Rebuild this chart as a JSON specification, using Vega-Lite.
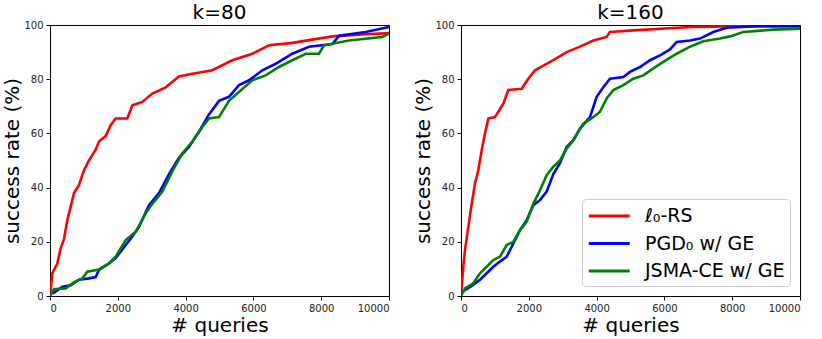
{
  "$schema": "https://vega.github.io/schema/vega-lite/v6.json",
  "background": "white",
  "padding": {"left": 2, "top": 2, "right": 0, "bottom": 0},
  "bounds": "flush",
  "spacing": 72,
  "config": {
    "font": "DejaVu Sans",
    "view": {"stroke": "#000000", "strokeWidth": 1},
    "axis": {"domain": false, "grid": false, "tickColor": "#000", "tickSize": 4, "labelFontSize": 10, "labelColor": "#222", "labelPadding": 3, "titleFontSize": 20, "titleFontWeight": "normal", "titleColor": "#000"},
    "title": {"fontSize": 20, "fontWeight": "normal", "offset": -3, "color": "#000"}
  },
  "datasets": {
    "k80": [
      {"q": 0, "r": 0, "m": "ℓ₀-RS"}, {"q": 70, "r": 8.4, "m": "ℓ₀-RS"}, {"q": 216, "r": 12, "m": "ℓ₀-RS"}, {"q": 315, "r": 17.6, "m": "ℓ₀-RS"}, {"q": 413, "r": 21, "m": "ℓ₀-RS"}, {"q": 511, "r": 28, "m": "ℓ₀-RS"}, {"q": 610, "r": 33, "m": "ℓ₀-RS"}, {"q": 708, "r": 38, "m": "ℓ₀-RS"}, {"q": 855, "r": 41, "m": "ℓ₀-RS"}, {"q": 1003, "r": 46.4, "m": "ℓ₀-RS"}, {"q": 1150, "r": 50, "m": "ℓ₀-RS"}, {"q": 1347, "r": 54, "m": "ℓ₀-RS"}, {"q": 1445, "r": 57, "m": "ℓ₀-RS"}, {"q": 1642, "r": 59, "m": "ℓ₀-RS"}, {"q": 1790, "r": 63, "m": "ℓ₀-RS"}, {"q": 1937, "r": 65.5, "m": "ℓ₀-RS"}, {"q": 2281, "r": 65.5, "m": "ℓ₀-RS"}, {"q": 2429, "r": 70.4, "m": "ℓ₀-RS"}, {"q": 2724, "r": 71.6, "m": "ℓ₀-RS"}, {"q": 3019, "r": 74.7, "m": "ℓ₀-RS"}, {"q": 3412, "r": 77, "m": "ℓ₀-RS"}, {"q": 3805, "r": 81, "m": "ℓ₀-RS"}, {"q": 4199, "r": 82, "m": "ℓ₀-RS"}, {"q": 4789, "r": 83.3, "m": "ℓ₀-RS"}, {"q": 5378, "r": 87, "m": "ℓ₀-RS"}, {"q": 5968, "r": 89.4, "m": "ℓ₀-RS"}, {"q": 6460, "r": 92.5, "m": "ℓ₀-RS"}, {"q": 7148, "r": 93.4, "m": "ℓ₀-RS"}, {"q": 7738, "r": 94.6, "m": "ℓ₀-RS"}, {"q": 8328, "r": 95.8, "m": "ℓ₀-RS"}, {"q": 9312, "r": 96.6, "m": "ℓ₀-RS"}, {"q": 10000, "r": 97, "m": "ℓ₀-RS"},
      {"q": 0, "r": 1, "m": "PGD₀ w/ GE"}, {"q": 118, "r": 1.2, "m": "PGD₀ w/ GE"}, {"q": 364, "r": 3.4, "m": "PGD₀ w/ GE"}, {"q": 610, "r": 4, "m": "PGD₀ w/ GE"}, {"q": 855, "r": 6, "m": "PGD₀ w/ GE"}, {"q": 1150, "r": 6.5, "m": "PGD₀ w/ GE"}, {"q": 1347, "r": 7, "m": "PGD₀ w/ GE"}, {"q": 1445, "r": 9.6, "m": "PGD₀ w/ GE"}, {"q": 1740, "r": 12, "m": "PGD₀ w/ GE"}, {"q": 1937, "r": 14, "m": "PGD₀ w/ GE"}, {"q": 2183, "r": 18, "m": "PGD₀ w/ GE"}, {"q": 2429, "r": 22, "m": "PGD₀ w/ GE"}, {"q": 2625, "r": 25.5, "m": "PGD₀ w/ GE"}, {"q": 2920, "r": 33.5, "m": "PGD₀ w/ GE"}, {"q": 3215, "r": 38, "m": "PGD₀ w/ GE"}, {"q": 3510, "r": 45, "m": "PGD₀ w/ GE"}, {"q": 3805, "r": 51, "m": "PGD₀ w/ GE"}, {"q": 4100, "r": 55, "m": "PGD₀ w/ GE"}, {"q": 4395, "r": 60.6, "m": "PGD₀ w/ GE"}, {"q": 4690, "r": 67, "m": "PGD₀ w/ GE"}, {"q": 4985, "r": 72, "m": "PGD₀ w/ GE"}, {"q": 5280, "r": 73.5, "m": "PGD₀ w/ GE"}, {"q": 5575, "r": 77.8, "m": "PGD₀ w/ GE"}, {"q": 5870, "r": 79.6, "m": "PGD₀ w/ GE"}, {"q": 6263, "r": 83.3, "m": "PGD₀ w/ GE"}, {"q": 6657, "r": 85.7, "m": "PGD₀ w/ GE"}, {"q": 7148, "r": 89.4, "m": "PGD₀ w/ GE"}, {"q": 7640, "r": 92, "m": "PGD₀ w/ GE"}, {"q": 8328, "r": 93, "m": "PGD₀ w/ GE"}, {"q": 8525, "r": 96, "m": "PGD₀ w/ GE"}, {"q": 9312, "r": 97.4, "m": "PGD₀ w/ GE"}, {"q": 10000, "r": 99.3, "m": "PGD₀ w/ GE"},
      {"q": 0, "r": 0, "m": "JSMA-CE w/ GE"}, {"q": 118, "r": 2.5, "m": "JSMA-CE w/ GE"}, {"q": 462, "r": 2.8, "m": "JSMA-CE w/ GE"}, {"q": 708, "r": 5, "m": "JSMA-CE w/ GE"}, {"q": 954, "r": 6.5, "m": "JSMA-CE w/ GE"}, {"q": 1101, "r": 9, "m": "JSMA-CE w/ GE"}, {"q": 1445, "r": 9.8, "m": "JSMA-CE w/ GE"}, {"q": 1740, "r": 12, "m": "JSMA-CE w/ GE"}, {"q": 1937, "r": 14.5, "m": "JSMA-CE w/ GE"}, {"q": 2232, "r": 20.6, "m": "JSMA-CE w/ GE"}, {"q": 2527, "r": 23.7, "m": "JSMA-CE w/ GE"}, {"q": 2822, "r": 30.5, "m": "JSMA-CE w/ GE"}, {"q": 3019, "r": 34, "m": "JSMA-CE w/ GE"}, {"q": 3314, "r": 38.5, "m": "JSMA-CE w/ GE"}, {"q": 3608, "r": 46, "m": "JSMA-CE w/ GE"}, {"q": 3903, "r": 52.6, "m": "JSMA-CE w/ GE"}, {"q": 4199, "r": 57, "m": "JSMA-CE w/ GE"}, {"q": 4494, "r": 62.4, "m": "JSMA-CE w/ GE"}, {"q": 4690, "r": 65.5, "m": "JSMA-CE w/ GE"}, {"q": 4985, "r": 66, "m": "JSMA-CE w/ GE"}, {"q": 5280, "r": 72, "m": "JSMA-CE w/ GE"}, {"q": 5575, "r": 75.3, "m": "JSMA-CE w/ GE"}, {"q": 5968, "r": 79.6, "m": "JSMA-CE w/ GE"}, {"q": 6362, "r": 81.4, "m": "JSMA-CE w/ GE"}, {"q": 6755, "r": 84.5, "m": "JSMA-CE w/ GE"}, {"q": 7148, "r": 87, "m": "JSMA-CE w/ GE"}, {"q": 7541, "r": 89.4, "m": "JSMA-CE w/ GE"}, {"q": 7935, "r": 89.4, "m": "JSMA-CE w/ GE"}, {"q": 8082, "r": 92.5, "m": "JSMA-CE w/ GE"}, {"q": 8820, "r": 94.3, "m": "JSMA-CE w/ GE"}, {"q": 9803, "r": 95.6, "m": "JSMA-CE w/ GE"}, {"q": 10000, "r": 96.8, "m": "JSMA-CE w/ GE"}
    ],
    "k160": [
      {"q": 0, "r": 0, "m": "ℓ₀-RS"}, {"q": 69, "r": 10.8, "m": "ℓ₀-RS"}, {"q": 118, "r": 17, "m": "ℓ₀-RS"}, {"q": 216, "r": 25.5, "m": "ℓ₀-RS"}, {"q": 315, "r": 34, "m": "ℓ₀-RS"}, {"q": 413, "r": 41.5, "m": "ℓ₀-RS"}, {"q": 511, "r": 46.4, "m": "ℓ₀-RS"}, {"q": 610, "r": 53.8, "m": "ℓ₀-RS"}, {"q": 708, "r": 60, "m": "ℓ₀-RS"}, {"q": 806, "r": 65.5, "m": "ℓ₀-RS"}, {"q": 1003, "r": 66, "m": "ℓ₀-RS"}, {"q": 1101, "r": 68, "m": "ℓ₀-RS"}, {"q": 1249, "r": 71, "m": "ℓ₀-RS"}, {"q": 1396, "r": 76, "m": "ℓ₀-RS"}, {"q": 1790, "r": 76.5, "m": "ℓ₀-RS"}, {"q": 1986, "r": 80.2, "m": "ℓ₀-RS"}, {"q": 2183, "r": 83.3, "m": "ℓ₀-RS"}, {"q": 2429, "r": 85, "m": "ℓ₀-RS"}, {"q": 2724, "r": 87, "m": "ℓ₀-RS"}, {"q": 3117, "r": 90, "m": "ℓ₀-RS"}, {"q": 3510, "r": 92, "m": "ℓ₀-RS"}, {"q": 3904, "r": 94.3, "m": "ℓ₀-RS"}, {"q": 4297, "r": 95.6, "m": "ℓ₀-RS"}, {"q": 4395, "r": 97.4, "m": "ℓ₀-RS"}, {"q": 5083, "r": 98, "m": "ℓ₀-RS"}, {"q": 6263, "r": 98.9, "m": "ℓ₀-RS"}, {"q": 6854, "r": 99.3, "m": "ℓ₀-RS"}, {"q": 8525, "r": 99.6, "m": "ℓ₀-RS"}, {"q": 10000, "r": 99.6, "m": "ℓ₀-RS"},
      {"q": 0, "r": 1, "m": "PGD₀ w/ GE"}, {"q": 118, "r": 2.2, "m": "PGD₀ w/ GE"}, {"q": 315, "r": 3.7, "m": "PGD₀ w/ GE"}, {"q": 560, "r": 6, "m": "PGD₀ w/ GE"}, {"q": 757, "r": 8.4, "m": "PGD₀ w/ GE"}, {"q": 954, "r": 10.8, "m": "PGD₀ w/ GE"}, {"q": 1150, "r": 12.7, "m": "PGD₀ w/ GE"}, {"q": 1347, "r": 14.5, "m": "PGD₀ w/ GE"}, {"q": 1544, "r": 19.4, "m": "PGD₀ w/ GE"}, {"q": 1740, "r": 24.3, "m": "PGD₀ w/ GE"}, {"q": 1937, "r": 28, "m": "PGD₀ w/ GE"}, {"q": 2134, "r": 33.5, "m": "PGD₀ w/ GE"}, {"q": 2330, "r": 35.4, "m": "PGD₀ w/ GE"}, {"q": 2527, "r": 38.5, "m": "PGD₀ w/ GE"}, {"q": 2724, "r": 45, "m": "PGD₀ w/ GE"}, {"q": 2920, "r": 49, "m": "PGD₀ w/ GE"}, {"q": 3117, "r": 55, "m": "PGD₀ w/ GE"}, {"q": 3314, "r": 57.5, "m": "PGD₀ w/ GE"}, {"q": 3510, "r": 61.8, "m": "PGD₀ w/ GE"}, {"q": 3805, "r": 66, "m": "PGD₀ w/ GE"}, {"q": 4002, "r": 73.5, "m": "PGD₀ w/ GE"}, {"q": 4199, "r": 77, "m": "PGD₀ w/ GE"}, {"q": 4395, "r": 80.2, "m": "PGD₀ w/ GE"}, {"q": 4789, "r": 80.8, "m": "PGD₀ w/ GE"}, {"q": 4985, "r": 82.7, "m": "PGD₀ w/ GE"}, {"q": 5280, "r": 84.5, "m": "PGD₀ w/ GE"}, {"q": 5575, "r": 87, "m": "PGD₀ w/ GE"}, {"q": 5870, "r": 88.8, "m": "PGD₀ w/ GE"}, {"q": 6165, "r": 91, "m": "PGD₀ w/ GE"}, {"q": 6362, "r": 93.7, "m": "PGD₀ w/ GE"}, {"q": 6755, "r": 94.3, "m": "PGD₀ w/ GE"}, {"q": 7050, "r": 95, "m": "PGD₀ w/ GE"}, {"q": 7443, "r": 97.4, "m": "PGD₀ w/ GE"}, {"q": 7837, "r": 99, "m": "PGD₀ w/ GE"}, {"q": 8722, "r": 99.6, "m": "PGD₀ w/ GE"}, {"q": 10000, "r": 99.6, "m": "PGD₀ w/ GE"},
      {"q": 0, "r": 0, "m": "JSMA-CE w/ GE"}, {"q": 118, "r": 2.8, "m": "JSMA-CE w/ GE"}, {"q": 364, "r": 4.7, "m": "JSMA-CE w/ GE"}, {"q": 560, "r": 8.4, "m": "JSMA-CE w/ GE"}, {"q": 757, "r": 10.8, "m": "JSMA-CE w/ GE"}, {"q": 954, "r": 13.3, "m": "JSMA-CE w/ GE"}, {"q": 1150, "r": 14.5, "m": "JSMA-CE w/ GE"}, {"q": 1347, "r": 18.8, "m": "JSMA-CE w/ GE"}, {"q": 1544, "r": 20, "m": "JSMA-CE w/ GE"}, {"q": 1740, "r": 24.3, "m": "JSMA-CE w/ GE"}, {"q": 1937, "r": 27.4, "m": "JSMA-CE w/ GE"}, {"q": 2134, "r": 34, "m": "JSMA-CE w/ GE"}, {"q": 2330, "r": 39, "m": "JSMA-CE w/ GE"}, {"q": 2527, "r": 44.6, "m": "JSMA-CE w/ GE"}, {"q": 2724, "r": 47.7, "m": "JSMA-CE w/ GE"}, {"q": 2920, "r": 50, "m": "JSMA-CE w/ GE"}, {"q": 3117, "r": 54.4, "m": "JSMA-CE w/ GE"}, {"q": 3314, "r": 57.5, "m": "JSMA-CE w/ GE"}, {"q": 3608, "r": 63.6, "m": "JSMA-CE w/ GE"}, {"q": 3903, "r": 66, "m": "JSMA-CE w/ GE"}, {"q": 4100, "r": 68, "m": "JSMA-CE w/ GE"}, {"q": 4297, "r": 72.9, "m": "JSMA-CE w/ GE"}, {"q": 4494, "r": 76, "m": "JSMA-CE w/ GE"}, {"q": 4789, "r": 77.8, "m": "JSMA-CE w/ GE"}, {"q": 5083, "r": 80.2, "m": "JSMA-CE w/ GE"}, {"q": 5378, "r": 81.4, "m": "JSMA-CE w/ GE"}, {"q": 5673, "r": 84, "m": "JSMA-CE w/ GE"}, {"q": 5968, "r": 86.4, "m": "JSMA-CE w/ GE"}, {"q": 6362, "r": 89.4, "m": "JSMA-CE w/ GE"}, {"q": 6755, "r": 92, "m": "JSMA-CE w/ GE"}, {"q": 7148, "r": 94, "m": "JSMA-CE w/ GE"}, {"q": 7640, "r": 95, "m": "JSMA-CE w/ GE"}, {"q": 7935, "r": 95.8, "m": "JSMA-CE w/ GE"}, {"q": 8328, "r": 97.4, "m": "JSMA-CE w/ GE"}, {"q": 9213, "r": 98.3, "m": "JSMA-CE w/ GE"}, {"q": 10000, "r": 98.6, "m": "JSMA-CE w/ GE"}
    ]
  },
  "resolve": {"legend": {"color": "independent"}},
  "hconcat": [
    {
      "title": "k=80",
      "width": 339,
      "height": 271,
      "data": {"name": "k80"},
      "mark": {"type": "line", "strokeWidth": 2.6, "clip": true},
      "encoding": {
        "x": {"field": "q", "type": "quantitative", "title": "# queries", "scale": {"domain": [0, 10000], "nice": false}, "axis": {"values": [0, 2000, 4000, 6000, 8000, 10000], "format": "d", "titlePadding": 2}},
        "y": {"field": "r", "type": "quantitative", "title": "success rate (%)", "scale": {"domain": [0, 100], "nice": false}, "axis": {"values": [0, 20, 40, 60, 80, 100], "titlePadding": 1}},
        "color": {"field": "m", "type": "nominal", "sort": null, "scale": {"domain": ["ℓ₀-RS", "PGD₀ w/ GE", "JSMA-CE w/ GE"], "range": ["#ff0000", "#0000ff", "#008000"]}, "legend": null}
      }
    },
    {
      "title": "k=160",
      "width": 339,
      "height": 271,
      "data": {"name": "k160"},
      "mark": {"type": "line", "strokeWidth": 2.6, "clip": true},
      "encoding": {
        "x": {"field": "q", "type": "quantitative", "title": "# queries", "scale": {"domain": [0, 10000], "nice": false}, "axis": {"values": [0, 2000, 4000, 6000, 8000, 10000], "format": "d", "titlePadding": 2}},
        "y": {"field": "r", "type": "quantitative", "title": "success rate (%)", "scale": {"domain": [0, 100], "nice": false}, "axis": {"values": [0, 20, 40, 60, 80, 100], "titlePadding": 1}},
        "color": {"field": "m", "type": "nominal", "sort": null, "scale": {"domain": ["ℓ₀-RS", "PGD₀ w/ GE", "JSMA-CE w/ GE"], "range": ["#ff0000", "#0000ff", "#008000"]},
          "legend": {"title": null, "orient": "bottom-right", "offset": 10, "fillColor": "rgba(255,255,255,0.8)", "strokeColor": "#cccccc", "cornerRadius": 4, "padding": 5, "symbolType": "M-1,0H3", "symbolFillColor": "transparent", "symbolStrokeWidth": 3, "symbolSize": 420, "labelFontSize": 19, "labelColor": "#000", "labelLimit": 300, "rowPadding": 5.5, "labelOffset": 34}}
      }
    }
  ]
}
